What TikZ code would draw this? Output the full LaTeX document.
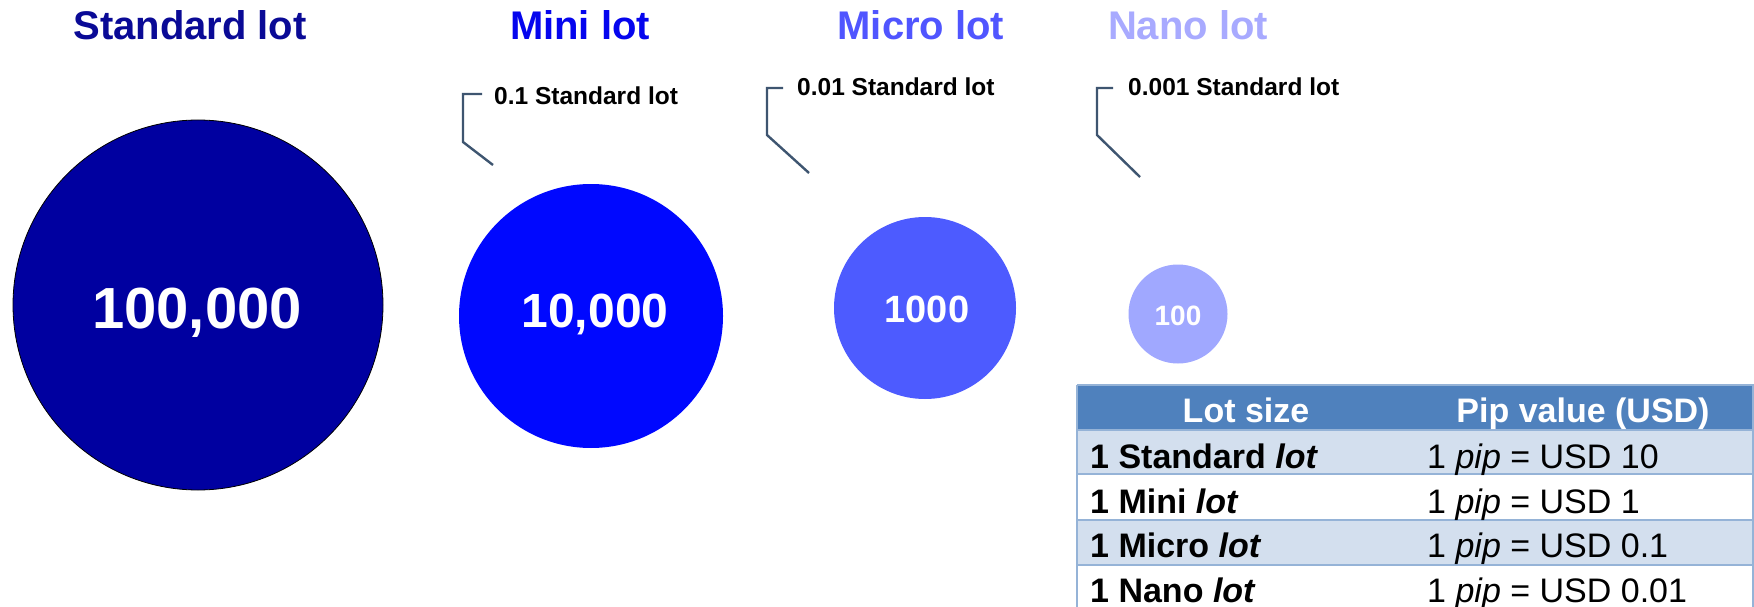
\documentclass[tikz,border=0pt]{standalone}
\usepackage{fontspec}
\setmainfont{Liberation Sans}
\definecolor{stdfill}{HTML}{0000A0}
\definecolor{stdtitle}{HTML}{0A0A96}
\definecolor{minifill}{HTML}{0008FF}
\definecolor{minititle}{HTML}{0505EE}
\definecolor{microfill}{HTML}{4D5BFF}
\definecolor{microtitle}{HTML}{5055FF}
\definecolor{nanofill}{HTML}{A0A8FF}
\definecolor{nanotitle}{HTML}{A8AAFF}
\definecolor{calloutline}{HTML}{3E5570}
\definecolor{tabhead}{HTML}{4F81BD}
\definecolor{tablight}{HTML}{D3DFEE}
\definecolor{tabrule}{HTML}{95B3D7}
\begin{document}
\begin{tikzpicture}[x=1pt,y=-1pt,
  lottitle/.style={anchor=base, inner sep=0pt, font=\fontsize{40}{40}\selectfont\bfseries},
  lotcirc/.style={circle, inner sep=0pt, draw=none},
  lotnum/.style={anchor=base, inner sep=0pt, text=white},
  callouttext/.style={anchor=base west, inner sep=0pt, font=\fontsize{24.5}{24.5}\selectfont\bfseries},
  callout/.style={draw=calloutline, line width=2.4pt},
  tabtext/.style={anchor=base west, inner sep=0pt, font=\fontsize{34}{34}\selectfont},
  tabhdr/.style={anchor=base, inner sep=0pt, text=white, font=\fontsize{34}{34}\selectfont\bfseries},
  tabline/.style={draw=tabrule, line width=2pt}
]
\useasboundingbox (0,0) rectangle (1754,607);
\fill[white] (0,0) rectangle (1754,607);

% titles
\node[lottitle, text=stdtitle] (tstd) at (190,40) {Standard lot};
\node[lottitle, text=minititle] (tmini) at (580,40) {Mini lot};
\node[lottitle, text=microtitle] (tmicro) at (921,40) {Micro lot};
\node[lottitle, text=nanotitle] (tnano) at (1188,40) {Nano lot};

% circles
\node[lotcirc, fill=stdfill, draw=black, line width=0.8pt, minimum size=370pt] (cstd) at (198,305) {};
\node[lotcirc, fill=minifill, minimum size=264pt] (cmini) at (591,316) {};
\node[lotcirc, fill=microfill, minimum size=182pt] (cmicro) at (925,308) {};
\node[lotcirc, fill=nanofill, minimum size=99pt] (cnano) at (1178,314) {};

% numbers
\node[lotnum, font=\fontsize{58}{58}\selectfont\bfseries] (nstd) at (197,328) {100,000};
\node[lotnum, font=\fontsize{48}{48}\selectfont\bfseries] (nmini) at (595,327) {10,000};
\node[lotnum, font=\fontsize{38}{38}\selectfont\bfseries] (nmicro) at (927,322) {1000};
\node[lotnum, font=\fontsize{28}{28}\selectfont\bfseries] (nnano) at (1178,325) {100};

% callouts
\node[callouttext] (kmini) at (494,105) {0.1 Standard lot};
\node[callouttext] (kmicro) at (797,96) {0.01 Standard lot};
\node[callouttext] (knano) at (1128,96) {0.001 Standard lot};
\coordinate (amini) at (482,94);
\coordinate (emini) at (493,165);
\coordinate (amicro) at (783,88);
\coordinate (emicro) at (809,173);
\coordinate (anano) at (1113,88);
\coordinate (enano) at (1140,177);
\draw[callout] (amini) -- (463,94) -- (463,142) -- (emini);
\draw[callout] (amicro) -- (767,88) -- (767,135) -- (emicro);
\draw[callout] (anano) -- (1097,88) -- (1097,135) -- (enano);

% table
\fill[tabhead] (1077,386) rectangle (1754,430);
\fill[tablight] (1077,430) rectangle (1754,474);
\fill[white] (1077,474) rectangle (1754,520);
\fill[tablight] (1077,520) rectangle (1754,565);
\fill[white] (1077,565) rectangle (1754,610);
\draw[tabline] (1077,430) -- (1754,430);
\draw[tabline] (1077,474) -- (1754,474);
\draw[tabline] (1077,520) -- (1754,520);
\draw[tabline] (1077,565) -- (1754,565);
\draw[tabline] (1077,385) -- (1754,385);
\draw[tabline] (1077,385) -- (1077,610);
\draw[tabline] (1753,385) -- (1753,610);

\node[tabhdr] (hlot) at (1246,422) {Lot size};
\node[tabhdr] (hpip) at (1583,422) {Pip value (USD)};

\node[tabtext] (r1a) at (1090,468) {\bfseries 1 Standard \itshape lot};
\node[tabtext] (r2a) at (1090,513) {\bfseries 1 Mini \itshape lot};
\node[tabtext] (r3a) at (1090,557) {\bfseries 1 Micro \itshape lot};
\node[tabtext] (r4a) at (1090,602) {\bfseries 1 Nano \itshape lot};

\node[tabtext] (r1b) at (1427,468) {1 \textit{pip} = USD 10};
\node[tabtext] (r2b) at (1427,513) {1 \textit{pip} = USD 1};
\node[tabtext] (r3b) at (1427,557) {1 \textit{pip} = USD 0.1};
\node[tabtext] (r4b) at (1427,602) {1 \textit{pip} = USD 0.01};
\end{tikzpicture}
\end{document}
